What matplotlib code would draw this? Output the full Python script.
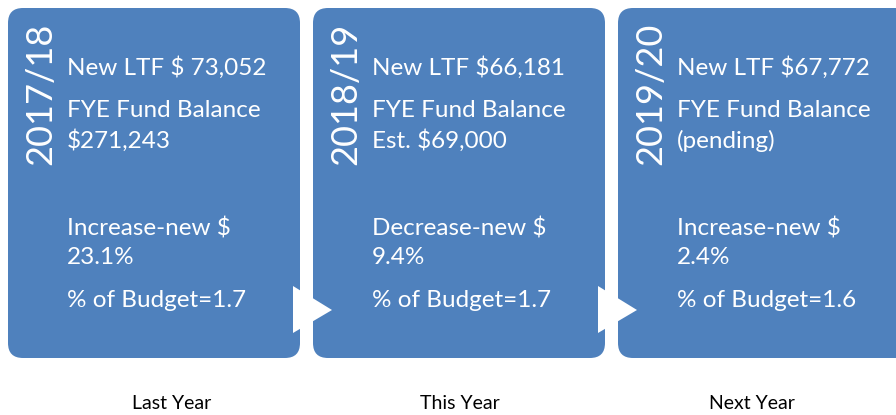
import matplotlib.pyplot as plt
from matplotlib.patches import FancyBboxPatch, Polygon

# Contenu des trois panneaux
years = ['2017/18', '2018/19', '2019/20']
ltf_lines = ['New LTF $ 73,052', 'New LTF $66,181', 'New LTF $67,772']
balance_lines = ['FYE Fund Balance\n$271,243', 'FYE Fund Balance\nEst. $69,000',
                 'FYE Fund Balance\n(pending)']
change_lines = ['Increase-new $\n23.1%', 'Decrease-new $\n9.4%', 'Increase-new $\n2.4%']
budget_lines = ['% of Budget=1.7', '% of Budget=1.7', '% of Budget=1.6']
periods = ['Last Year', 'This Year', 'Next Year']
period_x = [172, 460, 752]

BLUE = '#4f81bd'
FONT = 'Lato'

fig = plt.figure(figsize=(8.96, 4.15), dpi=100)
ax = fig.add_axes([0, 0, 1, 1])
ax.set_xlim(0, 896)
ax.set_ylim(415, 0)
ax.axis('off')

box_w, box_h, step = 292, 350, 305
for i, year in enumerate(years):
    x0 = 8 + i * step
    box = FancyBboxPatch((x0 + 15, 8 + 15), box_w - 30, box_h - 30,
                         boxstyle='round,pad=15', facecolor=BLUE,
                         edgecolor='none', zorder=1)
    ax.add_patch(box)

    ax.text(x0 + 33, 94, year, rotation=90, ha='center', va='center',
            color='white', fontsize=26, family=FONT, zorder=3)
    tx = x0 + 59
    ax.text(tx, 68, ltf_lines[i], ha='left', va='center', color='white',
            fontsize=17.5, family=FONT, zorder=3)
    ax.text(tx, 126, balance_lines[i], ha='left', va='center', color='white',
            fontsize=17.5, family=FONT, linespacing=1.45, zorder=3)
    ax.text(tx, 243, change_lines[i], ha='left', va='center', color='white',
            fontsize=17.5, family=FONT, linespacing=1.45, zorder=3)
    ax.text(tx, 300, budget_lines[i], ha='left', va='center', color='white',
            fontsize=17.5, family=FONT, zorder=3)

    ax.text(period_x[i], 403, periods[i], ha='center', va='center',
            color='black', fontsize=14, family=FONT)

    # Flèche blanche vers le panneau suivant
    if i < len(years) - 1:
        ax0 = x0 + box_w - 7
        tri = Polygon([(ax0, 286), (ax0, 333), (ax0 + 39, 310)], closed=True,
                      facecolor='white', edgecolor='none', zorder=2)
        ax.add_patch(tri)

fig.savefig('out.png', dpi=100)
